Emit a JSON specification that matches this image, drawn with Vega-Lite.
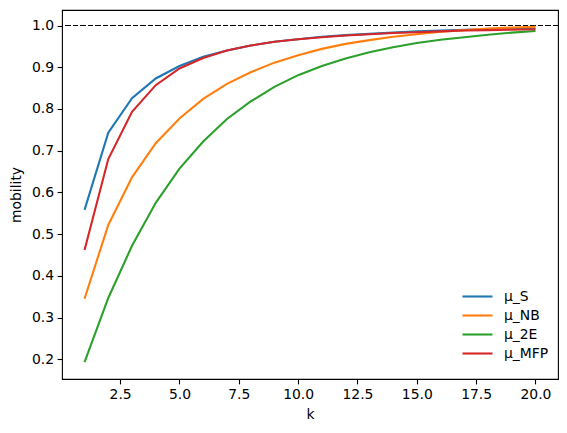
{
  "$schema": "https://vega.github.io/schema/vega-lite/v6.json",
  "width": 496,
  "height": 369,
  "autosize": {"type": "none"},
  "padding": {"left": 62, "top": 10, "right": 9, "bottom": 54},
  "background": "white",
  "config": {
    "font": "DejaVu Sans",
    "view": {"stroke": "black", "strokeWidth": 1.1},
    "axis": {
      "grid": false,
      "domain": false,
      "tickColor": "black",
      "tickWidth": 1.1,
      "tickSize": 4.9,
      "labelPadding": 3.5,
      "labelFontSize": 13.9,
      "labelColor": "black",
      "titleFontSize": 13.9,
      "titleFontWeight": "normal",
      "titleColor": "black"
    }
  },
  "data": {
    "values": [
      {"k": 1, "series": "μ_S", "mobility": 0.558},
      {"k": 2, "series": "μ_S", "mobility": 0.743},
      {"k": 3, "series": "μ_S", "mobility": 0.826},
      {"k": 4, "series": "μ_S", "mobility": 0.873},
      {"k": 5, "series": "μ_S", "mobility": 0.903},
      {"k": 6, "series": "μ_S", "mobility": 0.925},
      {"k": 7, "series": "μ_S", "mobility": 0.940},
      {"k": 8, "series": "μ_S", "mobility": 0.952},
      {"k": 9, "series": "μ_S", "mobility": 0.961},
      {"k": 10, "series": "μ_S", "mobility": 0.967},
      {"k": 11, "series": "μ_S", "mobility": 0.973},
      {"k": 12, "series": "μ_S", "mobility": 0.977},
      {"k": 13, "series": "μ_S", "mobility": 0.980},
      {"k": 14, "series": "μ_S", "mobility": 0.983},
      {"k": 15, "series": "μ_S", "mobility": 0.986},
      {"k": 16, "series": "μ_S", "mobility": 0.988},
      {"k": 17, "series": "μ_S", "mobility": 0.990},
      {"k": 18, "series": "μ_S", "mobility": 0.991},
      {"k": 19, "series": "μ_S", "mobility": 0.992},
      {"k": 20, "series": "μ_S", "mobility": 0.993},
      {"k": 1, "series": "μ_NB", "mobility": 0.345},
      {"k": 2, "series": "μ_NB", "mobility": 0.522},
      {"k": 3, "series": "μ_NB", "mobility": 0.636},
      {"k": 4, "series": "μ_NB", "mobility": 0.718},
      {"k": 5, "series": "μ_NB", "mobility": 0.777},
      {"k": 6, "series": "μ_NB", "mobility": 0.824},
      {"k": 7, "series": "μ_NB", "mobility": 0.860},
      {"k": 8, "series": "μ_NB", "mobility": 0.888},
      {"k": 9, "series": "μ_NB", "mobility": 0.911},
      {"k": 10, "series": "μ_NB", "mobility": 0.929},
      {"k": 11, "series": "μ_NB", "mobility": 0.944},
      {"k": 12, "series": "μ_NB", "mobility": 0.956},
      {"k": 13, "series": "μ_NB", "mobility": 0.965},
      {"k": 14, "series": "μ_NB", "mobility": 0.973},
      {"k": 15, "series": "μ_NB", "mobility": 0.979},
      {"k": 16, "series": "μ_NB", "mobility": 0.985},
      {"k": 17, "series": "μ_NB", "mobility": 0.989},
      {"k": 18, "series": "μ_NB", "mobility": 0.993},
      {"k": 19, "series": "μ_NB", "mobility": 0.995},
      {"k": 20, "series": "μ_NB", "mobility": 0.997},
      {"k": 1, "series": "μ_2E", "mobility": 0.193},
      {"k": 2, "series": "μ_2E", "mobility": 0.347},
      {"k": 3, "series": "μ_2E", "mobility": 0.472},
      {"k": 4, "series": "μ_2E", "mobility": 0.575},
      {"k": 5, "series": "μ_2E", "mobility": 0.657},
      {"k": 6, "series": "μ_2E", "mobility": 0.722},
      {"k": 7, "series": "μ_2E", "mobility": 0.776},
      {"k": 8, "series": "μ_2E", "mobility": 0.818},
      {"k": 9, "series": "μ_2E", "mobility": 0.853},
      {"k": 10, "series": "μ_2E", "mobility": 0.881},
      {"k": 11, "series": "μ_2E", "mobility": 0.903},
      {"k": 12, "series": "μ_2E", "mobility": 0.921},
      {"k": 13, "series": "μ_2E", "mobility": 0.936},
      {"k": 14, "series": "μ_2E", "mobility": 0.948},
      {"k": 15, "series": "μ_2E", "mobility": 0.958},
      {"k": 16, "series": "μ_2E", "mobility": 0.966},
      {"k": 17, "series": "μ_2E", "mobility": 0.972},
      {"k": 18, "series": "μ_2E", "mobility": 0.978},
      {"k": 19, "series": "μ_2E", "mobility": 0.983},
      {"k": 20, "series": "μ_2E", "mobility": 0.987},
      {"k": 1, "series": "μ_MFP", "mobility": 0.462},
      {"k": 2, "series": "μ_MFP", "mobility": 0.680},
      {"k": 3, "series": "μ_MFP", "mobility": 0.793},
      {"k": 4, "series": "μ_MFP", "mobility": 0.857},
      {"k": 5, "series": "μ_MFP", "mobility": 0.897},
      {"k": 6, "series": "μ_MFP", "mobility": 0.922},
      {"k": 7, "series": "μ_MFP", "mobility": 0.940},
      {"k": 8, "series": "μ_MFP", "mobility": 0.952},
      {"k": 9, "series": "μ_MFP", "mobility": 0.961},
      {"k": 10, "series": "μ_MFP", "mobility": 0.967},
      {"k": 11, "series": "μ_MFP", "mobility": 0.972},
      {"k": 12, "series": "μ_MFP", "mobility": 0.976},
      {"k": 13, "series": "μ_MFP", "mobility": 0.979},
      {"k": 14, "series": "μ_MFP", "mobility": 0.982},
      {"k": 15, "series": "μ_MFP", "mobility": 0.984},
      {"k": 16, "series": "μ_MFP", "mobility": 0.986},
      {"k": 17, "series": "μ_MFP", "mobility": 0.988},
      {"k": 18, "series": "μ_MFP", "mobility": 0.989},
      {"k": 19, "series": "μ_MFP", "mobility": 0.990},
      {"k": 20, "series": "μ_MFP", "mobility": 0.991}
    ]
  },
  "layer": [
    {
      "mark": {"type": "rule", "color": "black", "strokeWidth": 1.1, "strokeDash": [5, 2.5]},
      "encoding": {"y": {"datum": 1}}
    },
    {
      "mark": {"type": "line", "strokeWidth": 2.1},
      "encoding": {
        "x": {
          "field": "k",
          "type": "quantitative",
          "title": "k",
          "scale": {"domain": [0.05, 20.95], "nice": false, "zero": false},
          "axis": {"values": [2.5, 5, 7.5, 10, 12.5, 15, 17.5, 20], "format": ".1f", "titlePadding": 6}
        },
        "y": {
          "field": "mobility",
          "type": "quantitative",
          "title": "mobility",
          "scale": {"domain": [0.1527, 1.0372], "nice": false, "zero": false},
          "axis": {"values": [0.2, 0.3, 0.4, 0.5, 0.6, 0.7, 0.8, 0.9, 1.0], "format": ".1f", "titlePadding": 8}
        },
        "color": {
          "field": "series",
          "type": "nominal",
          "sort": ["μ_S", "μ_NB", "μ_2E", "μ_MFP"],
          "scale": {
            "domain": ["μ_S", "μ_NB", "μ_2E", "μ_MFP"],
            "range": ["#1f77b4", "#ff7f0e", "#2ca02c", "#d62728"]
          },
          "legend": {
            "title": null,
            "orient": "none",
            "legendX": 404,
            "legendY": 275,
            "symbolType": "M-1.5,0H1.5",
            "symbolSize": 400,
            "symbolStrokeWidth": 2.1,
            "labelFontSize": 13.9,
            "labelColor": "black",
            "labelOffset": 15,
            "rowPadding": 0
          }
        }
      }
    }
  ]
}
